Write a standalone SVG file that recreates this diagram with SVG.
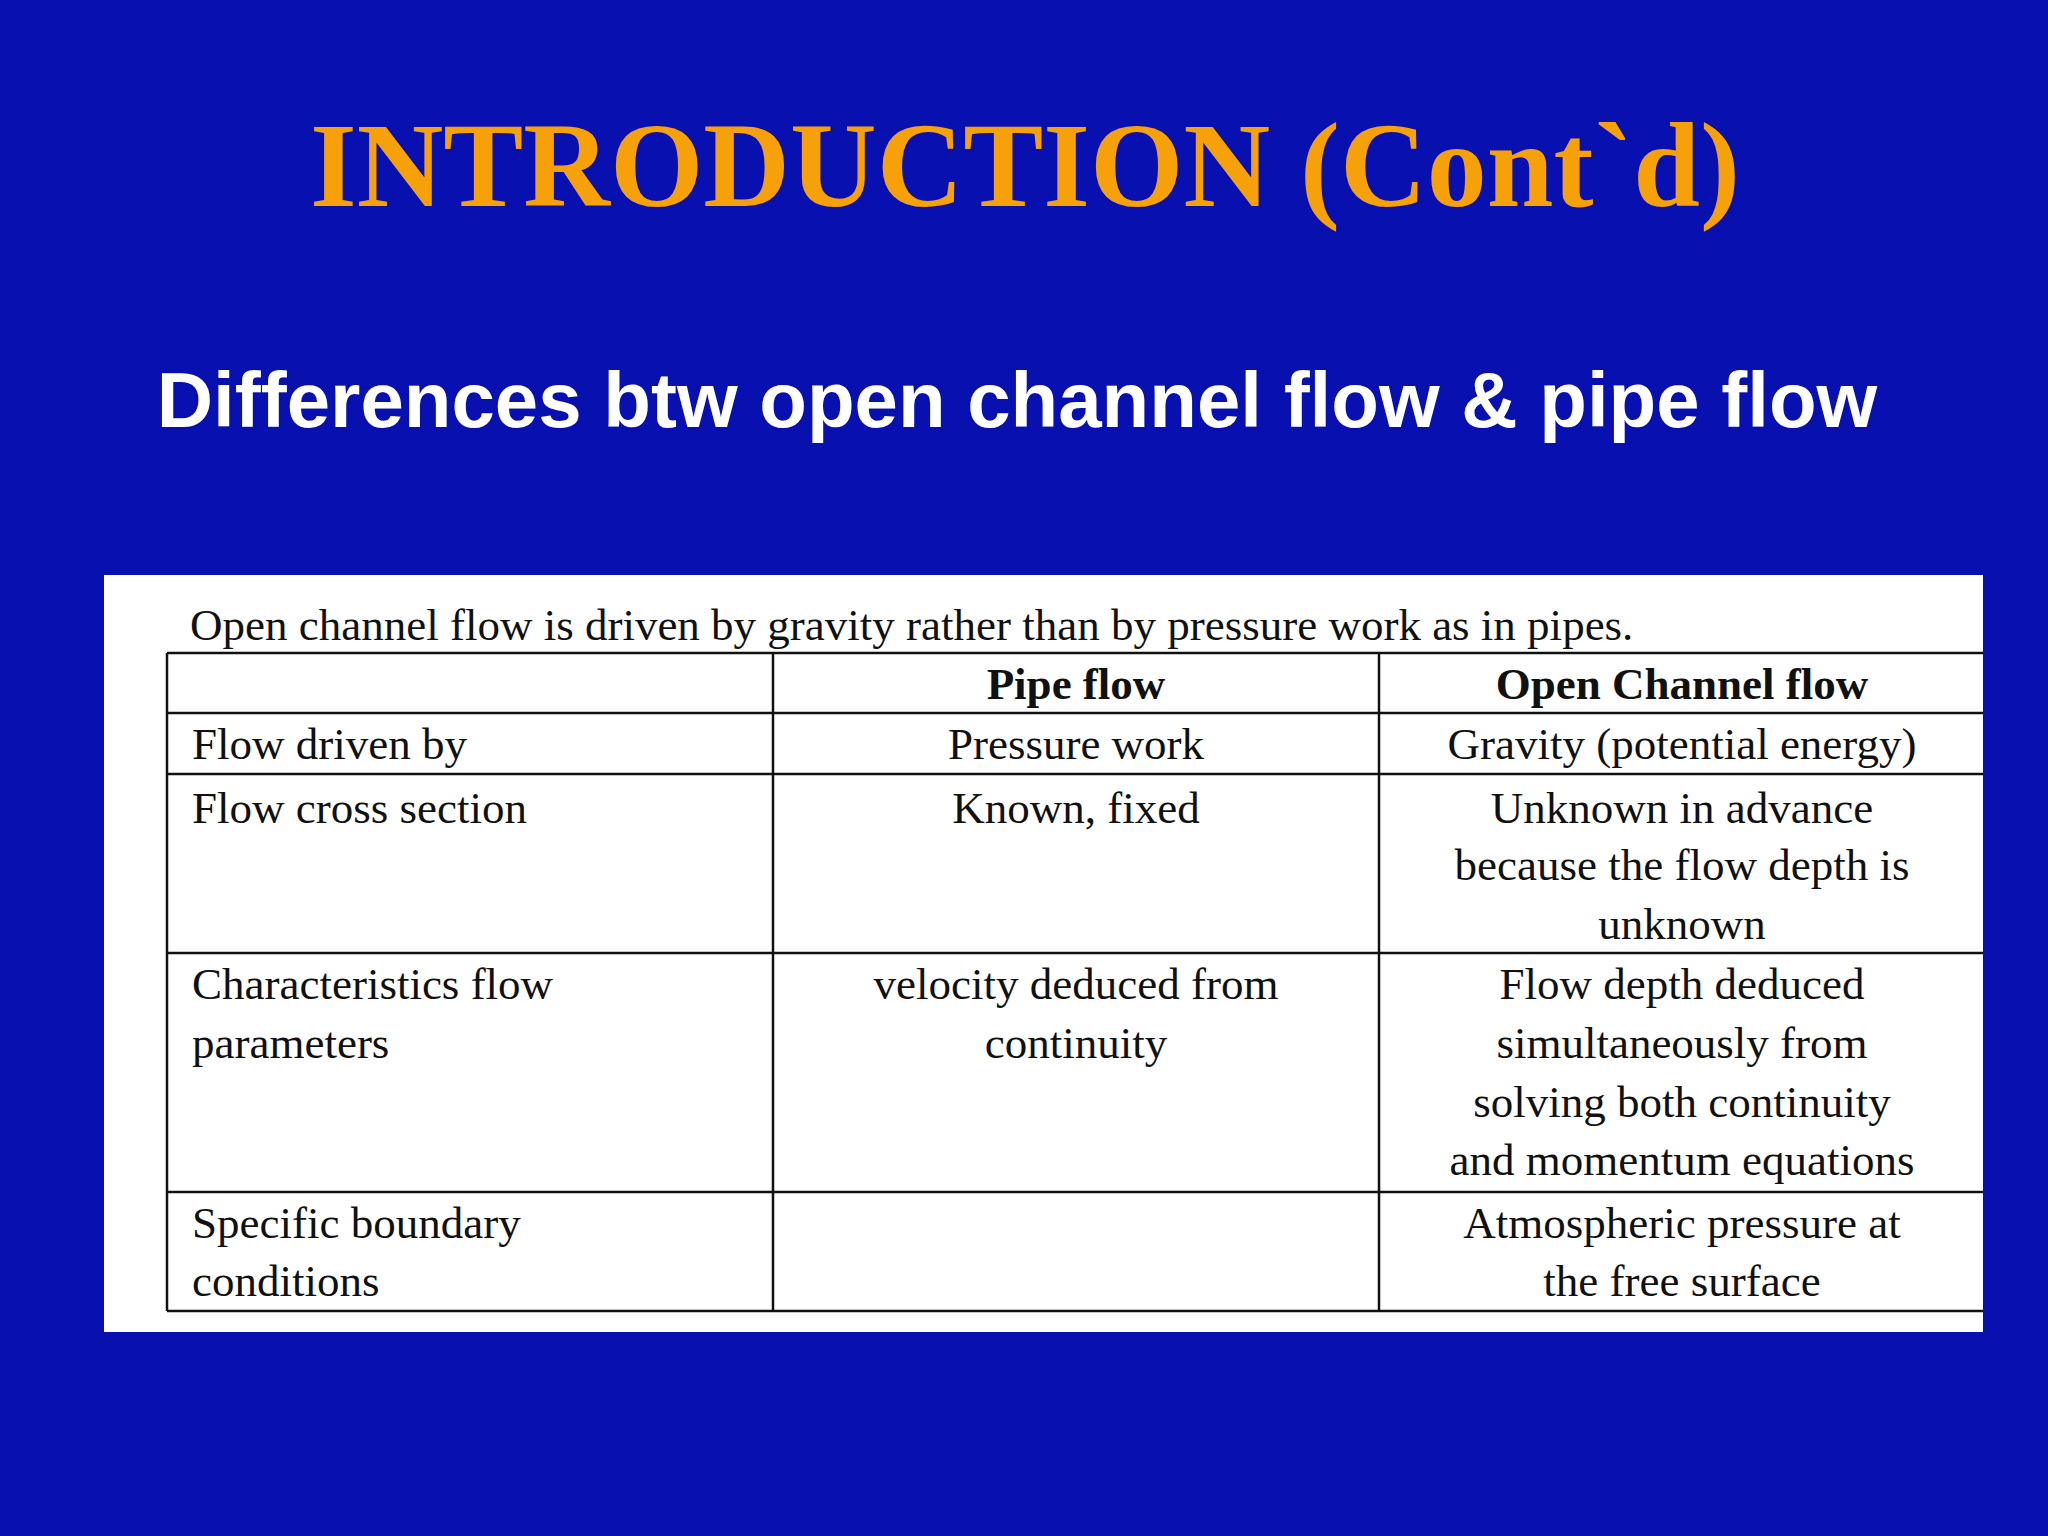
<svg xmlns="http://www.w3.org/2000/svg" width="2048" height="1536" viewBox="0 0 2048 1536">
<style>
.t{font-family:"Liberation Serif",serif;font-size:45px;fill:#111}
.c{text-anchor:middle}
.b{font-weight:bold}
.ln{stroke:#111;stroke-width:2.5}
</style>
<rect width="2048" height="1536" fill="#0810b0"/>
<text x="1025" y="206" text-anchor="middle" font-family="Liberation Serif,serif" font-weight="bold" font-size="120" fill="#f7a10a">INTRODUCTION (Cont`d)</text>
<text x="1017" y="427" text-anchor="middle" font-family="Liberation Sans,sans-serif" font-weight="bold" font-size="78" fill="#fff">Differences btw open channel flow &amp; pipe flow</text>
<rect x="104" y="575" width="1879" height="757" fill="#fff"/>
<g id="table">
<g class="ln">
<line x1="167" y1="653" x2="1983" y2="653"/>
<line x1="167" y1="713" x2="1983" y2="713"/>
<line x1="167" y1="774" x2="1983" y2="774"/>
<line x1="167" y1="953" x2="1983" y2="953"/>
<line x1="167" y1="1192" x2="1983" y2="1192"/>
<line x1="167" y1="1311" x2="1983" y2="1311"/>
<line x1="167" y1="653" x2="167" y2="1311"/>
<line x1="773" y1="653" x2="773" y2="1311"/>
<line x1="1379" y1="653" x2="1379" y2="1311"/>
</g>
<text class="t" x="190" y="640">Open channel flow is driven by gravity rather than by pressure work as in pipes.</text>
<text class="t c b" x="1076" y="699">Pipe flow</text>
<text class="t c b" x="1682" y="699">Open Channel flow</text>
<text class="t" x="192" y="759">Flow driven by</text>
<text class="t c" x="1076" y="759">Pressure work</text>
<text class="t c" x="1682" y="759">Gravity (potential energy)</text>
<text class="t" x="192" y="823">Flow cross section</text>
<text class="t c" x="1076" y="823">Known, fixed</text>
<text class="t c" x="1682" y="823">Unknown in advance</text>
<text class="t c" x="1682" y="880">because the flow depth is</text>
<text class="t c" x="1682" y="939">unknown</text>
<text class="t" x="192" y="999">Characteristics flow</text>
<text class="t" x="192" y="1058">parameters</text>
<text class="t c" x="1076" y="999">velocity deduced from</text>
<text class="t c" x="1076" y="1058">continuity</text>
<text class="t c" x="1682" y="999">Flow depth deduced</text>
<text class="t c" x="1682" y="1058">simultaneously from</text>
<text class="t c" x="1682" y="1117">solving both continuity</text>
<text class="t c" x="1682" y="1175">and momentum equations</text>
<text class="t" x="192" y="1238">Specific boundary</text>
<text class="t" x="192" y="1296">conditions</text>
<text class="t c" x="1682" y="1238">Atmospheric pressure at</text>
<text class="t c" x="1682" y="1296">the free surface</text>
</g>
</svg>
